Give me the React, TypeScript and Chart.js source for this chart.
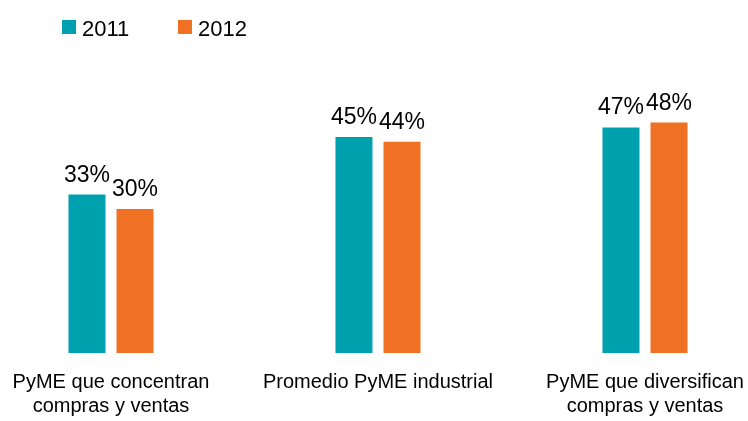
import React, { useEffect, useRef } from "react";
import { Chart, registerables } from "chart.js";

Chart.register(...registerables);

const categories: string[][] = [
  ["PyME que concentran", "compras y ventas"],
  ["Promedio PyME industrial"],
  ["PyME que diversifican", "compras y ventas"],
];
const seriesNames = ["2011", "2012"];
const values2011 = [33, 45, 47];
const values2012 = [30, 44, 48];
const colors = ["#00A1AF", "#F07024"];

const FONT = "'Liberation Sans', Arial, sans-serif";

const valueLabels = {
  id: "valueLabels",
  afterDatasetsDraw(chart: any) {
    const ctx = chart.ctx;
    ctx.save();
    ctx.font = `23px ${FONT}`;
    ctx.fillStyle = "#000";
    ctx.textAlign = "center";
    ctx.textBaseline = "alphabetic";
    chart.data.datasets.forEach((ds: any, i: number) => {
      const meta = chart.getDatasetMeta(i);
      meta.data.forEach((bar: any, j: number) => {
        ctx.fillText(`${ds.data[j]}%`, bar.x, bar.y - 13);
      });
    });
    ctx.restore();
  },
};

const customLegend = {
  id: "customLegend",
  afterDraw(chart: any) {
    const ctx = chart.ctx;
    ctx.save();
    ctx.font = `22px ${FONT}`;
    ctx.textBaseline = "alphabetic";
    ctx.textAlign = "left";
    const starts = [62, 178];
    chart.data.datasets.forEach((ds: any, i: number) => {
      const x = starts[i];
      ctx.fillStyle = ds.backgroundColor;
      ctx.fillRect(x, 20, 14, 14);
      ctx.fillStyle = "#000";
      ctx.fillText(ds.label, x + 20, 36);
    });
    ctx.restore();
  },
};

export default function App() {
  const ref = useRef<HTMLCanvasElement | null>(null);
  useEffect(() => {
    document.body.style.margin = "0";
    if (!ref.current) return;
    const chart = new Chart(ref.current, {
      type: "bar",
      data: {
        labels: categories,
        datasets: [
          { label: seriesNames[0], data: values2011, backgroundColor: colors[0], clip: false as any },
          { label: seriesNames[1], data: values2012, backgroundColor: colors[1], clip: false as any },
        ],
      },
      options: {
        animation: false,
        responsive: false,
        layout: { padding: { top: 113, right: 103, left: 0, bottom: 0 } },
        categoryPercentage: 0.36,
        barPercentage: 0.77,
        plugins: {
          legend: { display: false },
          tooltip: { enabled: false },
        },
        scales: {
          x: {
            offset: false,
            grid: { display: false, drawTicks: false },
            border: { display: false },
            ticks: {
              color: "#000",
              font: { family: FONT, size: 20, lineHeight: 1.2 },
              padding: 17,
              maxRotation: 0,
              autoSkip: false,
            },
            afterFit: (scale: any) => {
              scale.height = 68;
              scale.paddingLeft = 0;
              scale.paddingRight = 0;
            },
          },
          y: {
            min: 0,
            max: 50,
            grid: { display: false, drawTicks: false },
            border: { display: false },
            ticks: { display: false },
            afterFit: (scale: any) => {
              scale.width = 111;
            },
          },
        },
      } as any,
      plugins: [valueLabels, customLegend],
    });
    return () => chart.destroy();
  }, []);
  return (
    <div style={{ width: 748, height: 421, background: "#fff" }}>
      <canvas ref={ref} width={748} height={421} />
    </div>
  );
}
